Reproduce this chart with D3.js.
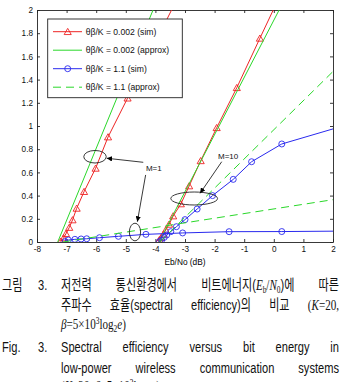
<!DOCTYPE html>
<html>
<head>
<meta charset="utf-8">
<script src="https://cdn.jsdelivr.net/npm/d3@7"></script>
<style>
  body { margin: 0; background: #fff; }
  svg { display: block; }
</style>
</head>
<body>
<div class="chart"></div>
<script>
// ---- data ----
const xTicks = [-8, -7, -6, -5, -4, -3, -2, -1, 0, 1, 2];
const yTicks = [0, 0.2, 0.4, 0.6, 0.8, 1, 1.2, 1.4, 1.6, 1.8, 2];
const xLabel = "Eb/No (dB)";
const legendLabels = ["θβ/K = 0.002 (sim)", "θβ/K = 0.002 (approx)", "θβ/K = 1.1 (sim)", "θβ/K = 1.1 (approx)"];

// θβ/K = 0.002 (sim), M=1 and M=10
const simLowM1 = [[-7.2, 0.005], [-7.1, 0.035], [-7.02, 0.072], [-6.91, 0.125], [-6.8, 0.19], [-6.66, 0.29],
  [-6.41, 0.434], [-6.02, 0.635], [-5.6, 0.905], [-4.94, 1.24], [-4.2, 1.62], [-3.1, 2.18]];
const simLowM10 = [[-3.9, 0.003], [-3.87, 0.017], [-3.81, 0.037], [-3.73, 0.066], [-3.65, 0.103], [-3.54, 0.152],
  [-3.4, 0.224], [-3.14, 0.328], [-2.86, 0.483], [-2.47, 0.7], [-1.93, 0.985], [-1.25, 1.33], [-0.47, 1.756], [0.35, 2.2]];
// θβ/K = 0.002 (approx)
const apxLowM1 = [[-7.3, 0], [-4.08, 2]];
const apxLowM10 = [[-3.88, 0], [0.18, 2]];
// θβ/K = 1.1 (sim)
const simHighM1 = [[-7.05, 0.003], [-6.94, 0.017], [-6.72, 0.023], [-6.51, 0.026], [-6.32, 0.028], [-5.89, 0.037],
  [-5.25, 0.049], [-4.32, 0.066], [-3.08, 0.078], [-1.51, 0.089], [0.27, 0.09], [2.3, 0.094]];
const simHighM10 = [[-3.86, 0.003], [-3.79, 0.017], [-3.7, 0.04], [-3.62, 0.06], [-3.48, 0.089], [-3.29, 0.132],
  [-3.0, 0.193], [-2.59, 0.284], [-2.07, 0.4], [-1.37, 0.54], [-0.75, 0.692], [0.27, 0.845], [2.6, 1.02]];
// θβ/K = 1.1 (approx)
const apxHighM1 = [[-7.13, 0], [2, 0.365]];
const apxHighM10 = [[-3.85, 0], [2, 1.47]];

// annotations (data units)
const ellipses = [[-6.04, 0.735, 0.38, 0.054], [-4.69, 0.086, 0.19, 0.076], [-2.69, 0.375, 0.79, 0.056]];
const arrows = [[-4.41, 0.687, -5.645, 0.722], [-4.33, 0.578, -4.61, 0.175], [-1.76, 0.692, -2.49, 0.42]];
const notes = [["M=1", -4.32, 0.612], ["M=10", -1.885, 0.716]];

// caption words: [text, kind] segments
const capKo1 = [[["저전력"]], [["통신환경에서"]],
  [["비트에너지("], ["E", "i"], ["b", "sub"], ["/", "s"], ["N", "i"], ["0", "sub"], [")에"]], [["따른"]]];
const capKo2 = [[["주파수"]], [["효율(spectral"]], [["efficiency)의"]], [["비교"]],
  [["(", "s"], ["K", "i"], ["=20,", "s"]]];
const capKo3 = [[["β", "i"], ["=5×10", "s"], ["3", "sup"], ["log", "s"], ["2", "sub"], ["e", "i"], [")", "s"]]];
const capEn1 = [[["Spectral"]], [["efficiency"]], [["versus"]], [["bit"]], [["energy"]], [["in"]]];
const capEn2 = [[["low-power"]], [["wireless"]], [["communication"]], [["systems"]]];
const capEn3 = [[["(", "s"], ["K", "i"], ["=20, ", "s"], ["β", "i"], ["=5×10", "s"], ["3", "sup"], ["log", "s"], ["2", "sub"], ["e", "i"], [")", "s"]]];

// ---- chart ----
const margin = { top: 10, left: 37 },
  width = 296,
  height = 232;

const red = "#ee2424", green = "#2ad82a", blue = "#2a2aee";

const svg = d3.select(".chart")
  .append("svg")
  .attr("width", 341)
  .attr("height", 382)
  .style("font-family", "'Liberation Sans', Arial, sans-serif");

const g = svg.append("g")
  .attr("transform", `translate(${margin.left},${margin.top})`);

const x = d3.scaleLinear().domain([-8, 2]).range([0, width]);
const y = d3.scaleLinear().domain([0, 2]).range([height, 0]);

svg.append("defs").append("clipPath").attr("id", "plotclip")
  .append("rect").attr("width", width).attr("height", height);
const arrowDef = svg.select("defs").append("marker")
  .attr("id", "head").attr("viewBox", "0 0 10 10").attr("refX", 10).attr("refY", 5)
  .attr("markerWidth", 6).attr("markerHeight", 6).attr("orient", "auto");
arrowDef.append("path").attr("d", "M0,0L10,5L0,10z").attr("fill", "#000");

// axes, ticks pointing inward on all four sides
const fmt = d => String(d);
g.append("g").attr("class", "axis")
  .attr("transform", `translate(0,${height})`)
  .call(d3.axisBottom(x).tickValues(xTicks).tickFormat(fmt).tickSizeInner(-3).tickSizeOuter(0).tickPadding(4));
g.append("g").attr("class", "axis")
  .call(d3.axisLeft(y).tickValues(yTicks).tickFormat(fmt).tickSizeInner(-3).tickSizeOuter(0).tickPadding(4));
g.append("g").attr("class", "axis")
  .call(d3.axisTop(x).tickValues(xTicks).tickFormat("").tickSizeInner(-3).tickSizeOuter(0));
g.append("g").attr("class", "axis")
  .attr("transform", `translate(${width},0)`)
  .call(d3.axisRight(y).tickValues(yTicks).tickFormat("").tickSizeInner(-3).tickSizeOuter(0));

g.selectAll(".axis path, .axis line").attr("stroke", "#222").attr("stroke-width", 0.9);
g.selectAll(".axis text").attr("font-size", "8.2px").attr("fill", "#111")
  .attr("font-family", "'Liberation Sans', Arial, sans-serif");

g.append("text")
  .attr("x", width / 2).attr("y", height + 23)
  .attr("text-anchor", "middle")
  .attr("font-size", "8.3px")
  .text(xLabel);

// curves
const plot = g.append("g").attr("clip-path", "url(#plotclip)");
const line = d3.line().x(d => x(d[0])).y(d => y(d[1]));

function curve(data, color, dash) {
  plot.append("path").datum(data)
    .attr("fill", "none").attr("stroke", color).attr("stroke-width", 1)
    .attr("stroke-dasharray", dash || null)
    .attr("d", line);
}
function triangles(data) {
  plot.selectAll(null).data(data).join("path")
    .attr("transform", d => `translate(${x(d[0])},${y(d[1]) + 0.8})`)
    .attr("d", d3.symbol(d3.symbolTriangle, 22))
    .attr("fill", "none").attr("stroke", red).attr("stroke-width", 0.9);
}
function circles(data) {
  plot.selectAll(null).data(data).join("circle")
    .attr("cx", d => x(d[0])).attr("cy", d => y(d[1])).attr("r", 3)
    .attr("fill", "none").attr("stroke", blue).attr("stroke-width", 0.9);
}

curve(simLowM1, red); triangles(simLowM1);
curve(simLowM10, red); triangles(simLowM10);
curve(apxLowM1, green);
curve(apxLowM10, green);
curve(simHighM1, blue); circles(simHighM1);
curve(simHighM10, blue); circles(simHighM10);
curve(apxHighM1, green, "8,5");
curve(apxHighM10, green, "8,5");

// annotations
g.selectAll(null).data(ellipses).join("ellipse")
  .attr("cx", d => x(d[0])).attr("cy", d => y(d[1]))
  .attr("rx", d => x(d[0] + d[2]) - x(d[0])).attr("ry", d => y(0) - y(d[3]))
  .attr("fill", "none").attr("stroke", "#222").attr("stroke-width", 0.9);
g.selectAll(null).data(arrows).join("line")
  .attr("x1", d => x(d[0])).attr("y1", d => y(d[1]))
  .attr("x2", d => x(d[2])).attr("y2", d => y(d[3]))
  .attr("stroke", "#222").attr("stroke-width", 0.9)
  .attr("marker-end", "url(#head)");
g.selectAll(null).data(notes).join("text")
  .attr("x", d => x(d[1])).attr("y", d => y(d[2]))
  .attr("font-size", "8px").attr("fill", "#111")
  .text(d => d[0]);

// legend
const legend = g.append("g").attr("transform", "translate(10.7,9)");
legend.append("rect").attr("width", 134.6).attr("height", 78.7)
  .attr("fill", "#fff").attr("stroke", "#222").attr("stroke-width", 0.9);
const legendStyle = [[red, null, "tri"], [green, null, null], [blue, null, "circ"], [green, "8,5", null]];
legendLabels.forEach((lab, i) => {
  const ly = 12.7 + i * 18.5;
  const [col, dash, mk] = legendStyle[i];
  legend.append("line").attr("x1", 5.3).attr("x2", 34.3).attr("y1", ly).attr("y2", ly)
    .attr("stroke", col).attr("stroke-width", 1).attr("stroke-dasharray", dash);
  if (mk === "tri") legend.append("path").attr("transform", `translate(20,${ly + 0.8})`)
    .attr("d", d3.symbol(d3.symbolTriangle, 22)).attr("fill", "none").attr("stroke", col).attr("stroke-width", 0.9);
  if (mk === "circ") legend.append("circle").attr("cx", 20).attr("cy", ly).attr("r", 3)
    .attr("fill", "none").attr("stroke", col).attr("stroke-width", 0.9);
  legend.append("text").attr("x", 38).attr("y", ly + 3)
    .attr("font-size", "8.6px").attr("fill", "#111").text(lab);
});

// ---- caption ----
const capFont = 15, sx = 0.74;
const capFamily = "'Liberation Sans', 'Noto Sans CJK KR', sans-serif";

function drawWord(parent, segs) {
  const t = parent.append("text").attr("font-size", capFont + "px").attr("fill", "#111")
    .attr("font-family", capFamily);
  let shift = 0;
  segs.forEach(([s, kind]) => {
    const sp = t.append("tspan").text(s);
    let want = 0;
    if (kind === "i") sp.attr("font-family", "'Liberation Serif', serif").attr("font-style", "italic");
    if (kind === "s") sp.attr("font-family", "'Liberation Serif', serif");
    if (kind === "sub") { sp.attr("font-family", "'Liberation Serif', serif").attr("font-size", "10px"); want = 3; }
    if (kind === "sup") { sp.attr("font-family", "'Liberation Serif', serif").attr("font-size", "10px"); want = -5; }
    if (want !== shift) { sp.attr("dy", want - shift); shift = want; }
  });
  return t;
}

function captionLine(words, yb, justify) {
  const x0 = 61, x1 = 339;
  const row = svg.append("g").attr("transform", `translate(${x0},${yb}) scale(${sx},1)`);
  const els = words.map(w => drawWord(row.append("g"), w));
  const widths = els.map(e => e.node().getComputedTextLength());
  const avail = (x1 - x0) / sx;
  const gap = justify && words.length > 1 ? (avail - d3.sum(widths)) / (words.length - 1) : 4;
  let cx = 0;
  els.forEach((e, i) => {
    d3.select(e.node().parentNode).attr("transform", `translate(${cx},0)`);
    cx += widths[i] + gap;
  });
}
function captionHead(label, num, yb) {
  const h = svg.append("g").attr("transform", `translate(2,${yb}) scale(${sx},1)`);
  drawWord(h, [[label]]);
  drawWord(h.append("g").attr("transform", `translate(${36 / sx},0)`), [[num]]);
}

captionHead("그림", "3.", 290);
captionLine(capKo1, 290, true);
captionLine(capKo2, 310, true);
captionLine(capKo3, 329, false);
captionHead("Fig.", "3.", 352);
captionLine(capEn1, 352, true);
captionLine(capEn2, 373, true);
captionLine(capEn3, 391, false);
</script>
</body>
</html>
